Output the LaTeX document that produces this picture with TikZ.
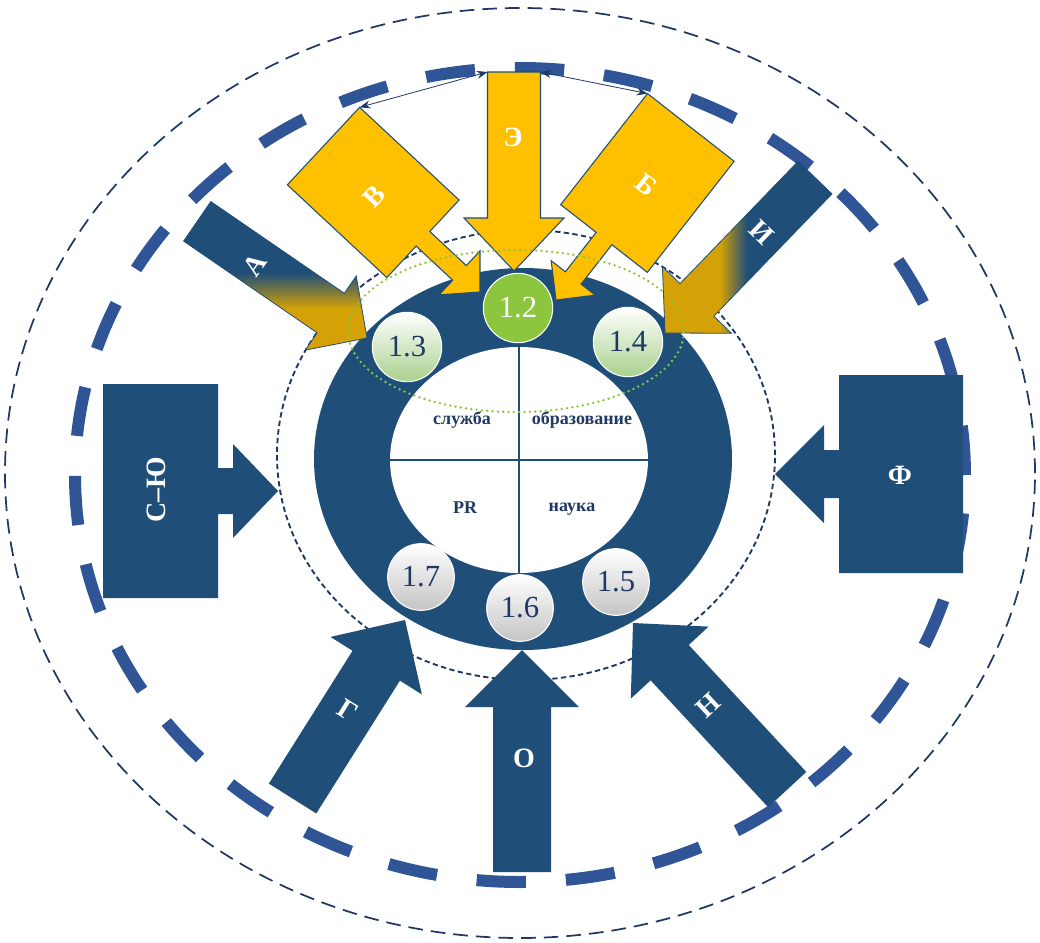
\documentclass[tikz,border=0pt]{standalone}
\usepackage{fontspec}
\setmainfont{Liberation Serif}
\usetikzlibrary{
  shapes.geometric,
  arrows.meta,
  calc
}
\definecolor{ringNavy}{HTML}{1F4E79}
\definecolor{dashBlue}{HTML}{2F5597}
\definecolor{lineNavy}{HTML}{203864}
\definecolor{boxGold}{HTML}{FFC000}
\definecolor{headGold}{HTML}{D4A106}
\definecolor{leafGreen}{HTML}{8CC63F}
\definecolor{paleGreen}{HTML}{A9D18E}
\definecolor{paleGrey}{HTML}{C4C4C4}

\pgfdeclareverticalshading{fadeA}{100bp}{color(0bp)=(headGold); color(39bp)=(headGold); color(51bp)=(ringNavy); color(100bp)=(ringNavy)}
\pgfdeclarehorizontalshading{fadeI}{100bp}{color(0bp)=(headGold); color(42bp)=(headGold); color(50bp)=(ringNavy); color(100bp)=(ringNavy)}

% block arrow: style, tip, rotation, length, shaft half, head length, head half, name
\newcommand{\blockArrow}[8]{%
  \begin{scope}[shift={#2}, rotate=#3]
    \path[#1] (0,0) -- (-#6,#7) -- (-#6,#5) -- (-#4,#5) coordinate (#8-a)
      -- (-#4,-#5) coordinate (#8-b) -- (-#6,-#5) -- (-#6,-#7) -- cycle;
  \end{scope}}

\tikzset{
  goldArrow/.style={fill=boxGold, draw=ringNavy, line width=0.8pt},
  navyArrow/.style={fill=ringNavy},
  fadeArrow/.style={shade, shading=#1, draw=ringNavy, line width=0.6pt},
  arrowLabel/.style={text=white, font=\bfseries\fontsize{21}{23}\selectfont},
  hubDot/.style={
    circle, minimum size=52pt, inner sep=0pt, draw=white, line width=0.8pt,
    font=\fontsize{23}{25}\selectfont, text=lineNavy
  },
  greenDot/.style={hubDot, top color=white, bottom color=paleGreen},
  greyDot/.style={hubDot, minimum size=50pt, top color=white, bottom color=paleGrey},
  topDot/.style={hubDot, fill=leafGreen, text=white},
  sectorLabel/.style={text=lineNavy, font=\bfseries\fontsize{13.5}{15}\selectfont},
  ovalLine/.style={ellipse, inner sep=0pt, outer sep=0pt},
  linkArrow/.style={
    {Stealth[length=8pt,width=6pt]}-{Stealth[length=8pt,width=6pt]},
    draw=lineNavy, line width=0.6pt
  }
}

\begin{document}
\begin{tikzpicture}[x=0.75pt, y=-0.75pt]

\fill[white] (0,0) rectangle (1040,943);
\useasboundingbox (0,0) rectangle (1040,943);

% ── OUTER OVALS ───────────────────────────────────────────────────
\node[ovalLine, draw=lineNavy, line width=1.3pt, dash pattern=on 11pt off 6pt,
      minimum width=772.5pt, minimum height=697.5pt] (outerOval) at (520,473) {};
\node[ovalLine, draw=dashBlue, line width=9pt, dash pattern=on 37pt off 30pt,
      minimum width=667.5pt, minimum height=610.5pt] (midOval) at (520,475) {};
\node[ovalLine, draw=lineNavy, line width=1.4pt, dash pattern=on 4pt off 2.5pt,
      minimum width=373.5pt, minimum height=337.5pt] (orbit) at (526,455) {};

% ── CORE RING ─────────────────────────────────────────────────────
\node[ovalLine, fill=ringNavy, minimum width=313.5pt, minimum height=286.5pt]
  (ring) at (523,459) {};
\node[ovalLine, fill=white, minimum width=193.5pt, minimum height=169.5pt]
  (core) at (519,460) {};
\draw[ringNavy, line width=2pt] (core.north) -- (core.south);
\draw[ringNavy, line width=2pt] (core.west) -- (core.east);

\node[sectorLabel] (sService) at (462,420) {служба};
\node[sectorLabel] (sEdu)     at (582,420) {образование};
\node[sectorLabel] (sPR)      at (465,508) {PR};
\node[sectorLabel] (sScience) at (572,509) {наука};

% ── GOLD ARROWS (top) ─────────────────────────────────────────────
\blockArrow{goldArrow}{(514,271)}{-90}{199}{26.5}{53}{50}{arrE}

\begin{scope}[shift={(480,292)}, rotate=-43]
  \path[goldArrow] (0,0) -- (-28,30) -- (-28,10) -- (-78,10) -- (-78,53)
    -- (-214,53) -- (-214,-53) coordinate (boxV-top) -- (-78,-53) -- (-78,-10)
    -- (-28,-10) -- (-28,-30) -- cycle;
\end{scope}

\begin{scope}[shift={(556,300)}, rotate=-128]
  \path[goldArrow] (0,0) -- (-28,28) -- (-28,10) -- (-78,10) -- (-78,55)
    -- (-219,55) coordinate (boxB-top) -- (-219,-55) -- (-78,-55) -- (-78,-10)
    -- (-28,-10) -- (-28,-28) -- cycle;
\end{scope}

% ── FADED ARROWS ──────────────────────────────────────────────────
\blockArrow{fadeArrow=fadeA}{(367,338)}{-34.5}{206}{24}{44}{45}{arrA}
\blockArrow{fadeArrow=fadeI}{(665,333)}{-134}{216}{23.5}{46}{48}{arrI}

% ── NAVY ARROWS ───────────────────────────────────────────────────
\begin{scope}[shift={(278,491)}]
  \path[navyArrow] (0,0) -- (-45,47) -- (-45,23) -- (-60,23) -- (-60,107)
    -- (-175,107) -- (-175,-107) -- (-60,-107) -- (-60,-23) -- (-45,-23)
    -- (-45,-47) -- cycle;
\end{scope}

\begin{scope}[shift={(775,474)}, rotate=-180]
  \path[navyArrow] (0,0) -- (-49,49) -- (-49,24) -- (-64,24) -- (-64,99)
    -- (-188,99) -- (-188,-99) -- (-64,-99) -- (-64,-24) -- (-49,-24)
    -- (-49,-49) -- cycle;
\end{scope}

\blockArrow{navyArrow}{(405,620)}{57.8}{211}{28}{54}{54}{arrG}
\blockArrow{navyArrow}{(522,650)}{90}{222}{29}{57}{57}{arrO}
\blockArrow{navyArrow}{(633,623)}{132.8}{227}{26}{54}{53}{arrN}

% ── HUB DOTS ──────────────────────────────────────────────────────
\node[topDot]   (d12) at (518,308) {1.2};
\node[greenDot] (d13) at (407,347) {1.3};
\node[greenDot] (d14) at (628,342) {1.4};
\node[greyDot]  (d17) at (421,577) {1.7};
\node[greyDot]  (d16) at (520,608) {1.6};
\node[greyDot]  (d15) at (616,582) {1.5};

\node[ovalLine, draw=leafGreen, line width=2pt, dash pattern=on 0pt off 4pt,
      line cap=round, minimum width=252pt, minimum height=121.5pt]
  (focus) at (516,331) {};

% ── LINKS ─────────────────────────────────────────────────────────
\draw[linkArrow] (boxV-top) -- (arrE-a);
\draw[linkArrow] (arrE-b) -- (boxB-top);

% ── ARROW LABELS ──────────────────────────────────────────────────
\node[arrowLabel]             (lE)  at (513,137) {Э};
\node[arrowLabel, rotate=47]  (lV)  at (374,196) {В};
\node[arrowLabel, rotate=-38] (lB)  at (646,185) {Б};
\node[arrowLabel, rotate=55]  (lA)  at (255,265) {А};
\node[arrowLabel, rotate=-44] (lI)  at (762,232) {И};
\node[arrowLabel, rotate=90]  (lSU) at (156,490) {С–Ю};
\node[arrowLabel]             (lF)  at (900,475) {Ф};
\node[arrowLabel, rotate=-32] (lG)  at (348,710) {Г};
\node[arrowLabel]             (lO)  at (524,758) {О};
\node[arrowLabel, rotate=43]  (lN)  at (708,705) {Н};

\end{tikzpicture}
\end{document}
